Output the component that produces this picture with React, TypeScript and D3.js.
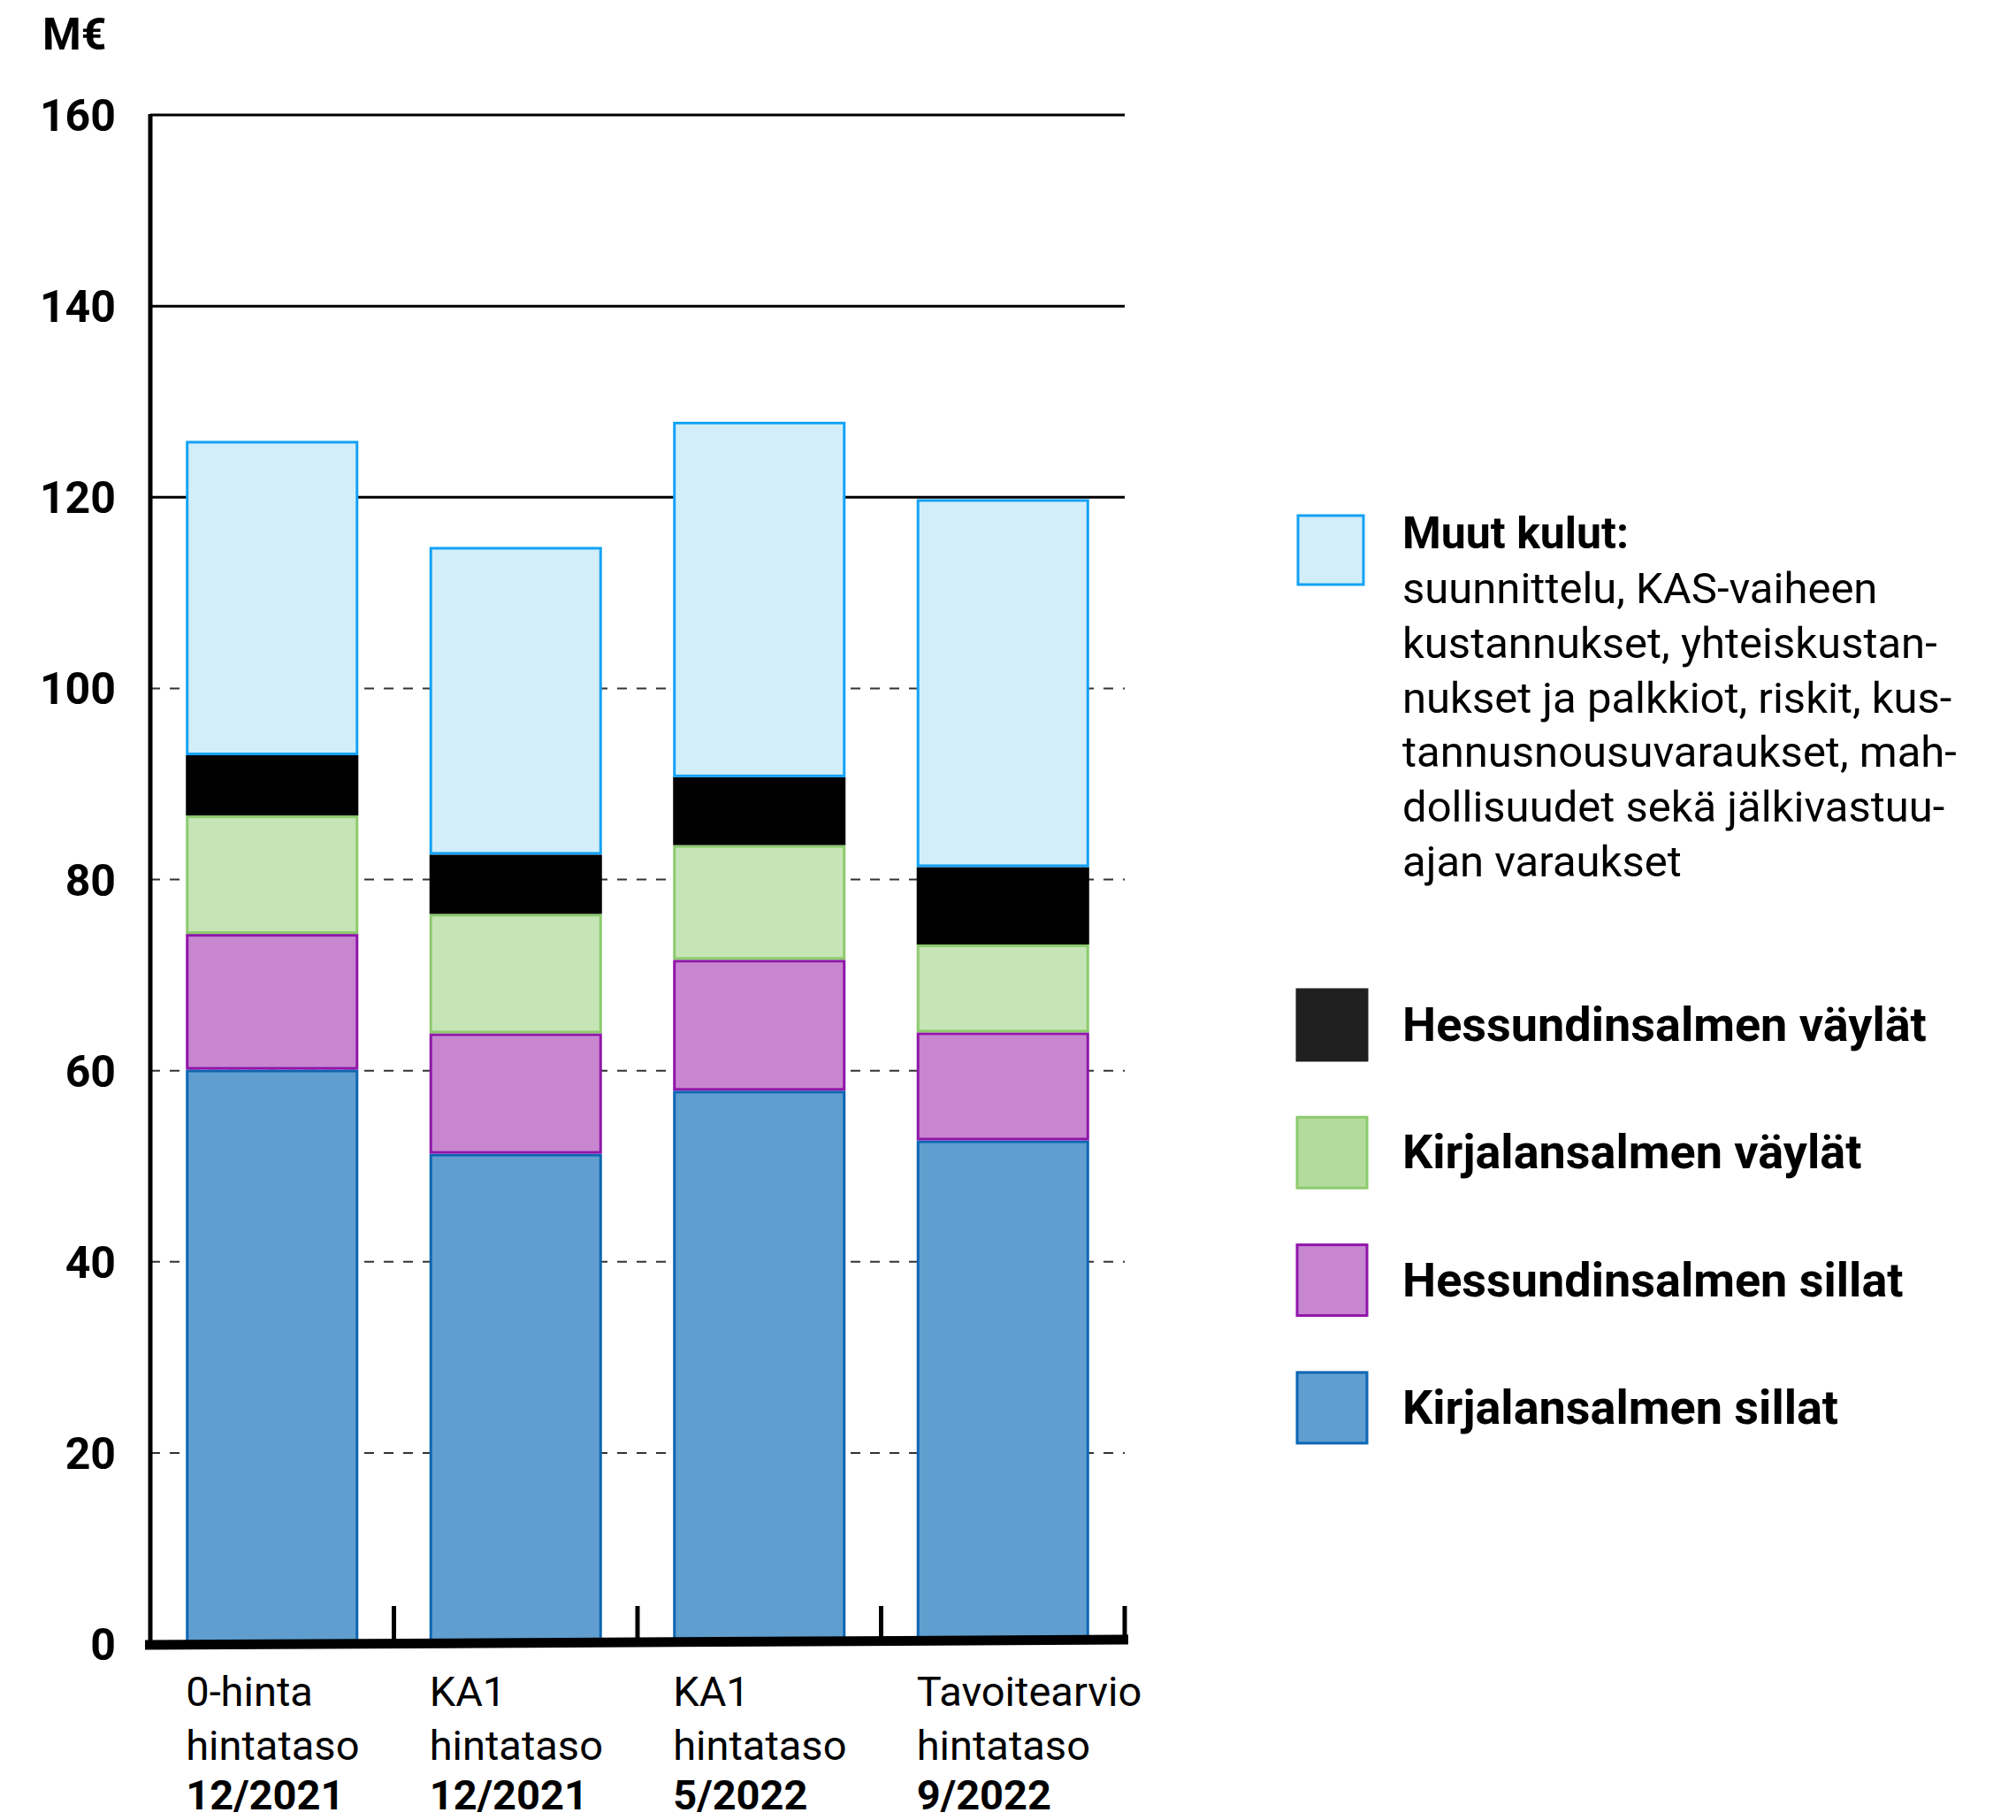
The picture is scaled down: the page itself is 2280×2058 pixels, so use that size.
import * as d3 from "d3";

const W = 2280;
const H = 2058;

// x-axis labels (three lines per bar)
const labelLine1 = ["0-hinta", "KA1", "KA1", "Tavoitearvio"];
const labelLine2 = ["hintataso", "hintataso", "hintataso", "hintataso"];
const labelLine3 = ["12/2021", "12/2021", "5/2022", "9/2022"];

// stacked series, bottom to top (M€)
const kirjalansalmenSillat = [60.1, 51.3, 57.9, 52.7];
const hessundinsalmenSillat = [14.2, 12.6, 13.7, 11.3];
const kirjalansalmenVaylat = [12.4, 12.5, 12.0, 9.2];
const hessundinsalmenVaylat = [6.3, 6.2, 7.1, 8.1];
const muutKulut = [32.9, 32.2, 37.2, 38.5];

const yTicks = [0, 20, 40, 60, 80, 100, 120, 140, 160];
const solidTicks = [120, 140, 160];

const seriesKeys = ["ks", "hs", "kv", "hv", "muut"];
const fills: Record<string, string> = {
  ks: "#5f9ecf",
  hs: "#c886d1",
  kv: "#c6e5b6",
  hv: "#000000",
  muut: "#d2eef9",
};
const strokes: Record<string, string> = {
  ks: "#0e66b3",
  hs: "#9016a9",
  kv: "#8dca6e",
  hv: "#000000",
  muut: "#14a2f5",
};

const legendBody = [
  "suunnittelu, KAS-vaiheen",
  "kustannukset, yhteiskustan-",
  "nukset ja palkkiot, riskit, kus-",
  "tannusnousuvaraukset, mah-",
  "dollisuudet sekä jälkivastuu-",
  "ajan varaukset",
];
const legendItems = [
  { label: "Hessundinsalmen väylät", fill: "#202020", stroke: "#202020" },
  { label: "Kirjalansalmen väylät", fill: "#b3dc9c", stroke: "#8dca6e" },
  { label: "Hessundinsalmen sillat", fill: "#c886d1", stroke: "#9016a9" },
  { label: "Kirjalansalmen sillat", fill: "#5f9ecf", stroke: "#0e66b3" },
];

const FONT = "Roboto, 'Noto Sans', sans-serif";

export default function App() {
  const rows = labelLine1.map((_, i) => ({
    i,
    ks: kirjalansalmenSillat[i],
    hs: hessundinsalmenSillat[i],
    kv: kirjalansalmenVaylat[i],
    hv: hessundinsalmenVaylat[i],
    muut: muutKulut[i],
  }));
  const stacked = d3.stack<any>().keys(seriesKeys)(rows);

  const x = d3
    .scaleBand<number>()
    .domain(rows.map((r) => r.i))
    .range([170, 1272])
    .paddingInner(0.292)
    .paddingOuter(0.146);
  const y = d3.scaleLinear().domain([0, 160]).range([1859, 130]);

  const step = x.step();
  // right edge of each category slot
  const boundaries = rows.map((r) => (x(r.i) as number) + x.bandwidth() + (step - x.bandwidth()) / 2);

  return (
    <svg
      width={W}
      height={H}
      style={{ position: "absolute", left: 0, top: 0, background: "#fff" }}
      fontFamily={FONT}
    >
      <text x={48} y={56} fontSize={50} fontWeight={700}>
        M€
      </text>

      {/* gridlines */}
      {yTicks
        .filter((t) => t > 0)
        .map((t) => (
          <line
            key={t}
            x1={170}
            x2={1272}
            y1={y(t)}
            y2={y(t)}
            stroke={solidTicks.includes(t) ? "#000" : "#333"}
            strokeWidth={solidTicks.includes(t) ? 3 : 2}
            strokeDasharray={solidTicks.includes(t) ? undefined : "11,11"}
          />
        ))}

      {/* y tick labels */}
      {yTicks.map((t) => (
        <text key={t} x={131} y={y(t) + 18} textAnchor="end" fontSize={50} fontWeight={700}>
          {t}
        </text>
      ))}

      {/* bars */}
      {stacked.map((s) => (
        <g key={s.key}>
          {s.map((d, i) => (
            <rect
              key={i}
              x={(x(i) as number) + 1.5}
              y={y(d[1]) + 1.5}
              width={x.bandwidth() - 3}
              height={Math.max(0, y(d[0]) - y(d[1]) - 3)}
              fill={fills[s.key]}
              stroke={strokes[s.key]}
              strokeWidth={3}
            />
          ))}
        </g>
      ))}

      {/* y axis */}
      <line x1={170} x2={170} y1={129} y2={1860} stroke="#000" strokeWidth={5} />
      {/* category separators */}
      {boundaries.map((bx, i) => (
        <line key={i} x1={bx} x2={bx} y1={1816} y2={1856} stroke="#000" strokeWidth={5} />
      ))}
      {/* baseline, slightly slanted */}
      <line x1={164} x2={1276} y1={y(0) + 1} y2={y(0) - 5} stroke="#000" strokeWidth={11} />

      {/* x labels */}
      {rows.map((r) => {
        const lx = x(r.i) as number;
        return (
          <g key={r.i} fontSize={47}>
            <text x={lx} y={1929}>
              {labelLine1[r.i]}
            </text>
            <text x={lx} y={1990}>
              {labelLine2[r.i]}
            </text>
            <text x={lx} y={2046} fontWeight={700}>
              {labelLine3[r.i]}
            </text>
          </g>
        );
      })}

      {/* legend */}
      <rect x={1468} y={583} width={74} height={78} fill={fills.muut} stroke={strokes.muut} strokeWidth={3} />
      <text x={1586} y={620} fontSize={50} fontWeight={700}>
        Muut kulut:
      </text>
      {legendBody.map((line, i) => (
        <text key={i} x={1586} y={682 + i * 61.8} fontSize={49}>
          {line}
        </text>
      ))}
      {legendItems.map((it, i) => {
        const top = 1119 + i * 144.3;
        return (
          <g key={it.label}>
            <rect x={1467} y={top} width={79} height={80} fill={it.fill} stroke={it.stroke} strokeWidth={3} />
            <text x={1586} y={top + 58} fontSize={54} fontWeight={700}>
              {it.label}
            </text>
          </g>
        );
      })}
    </svg>
  );
}
